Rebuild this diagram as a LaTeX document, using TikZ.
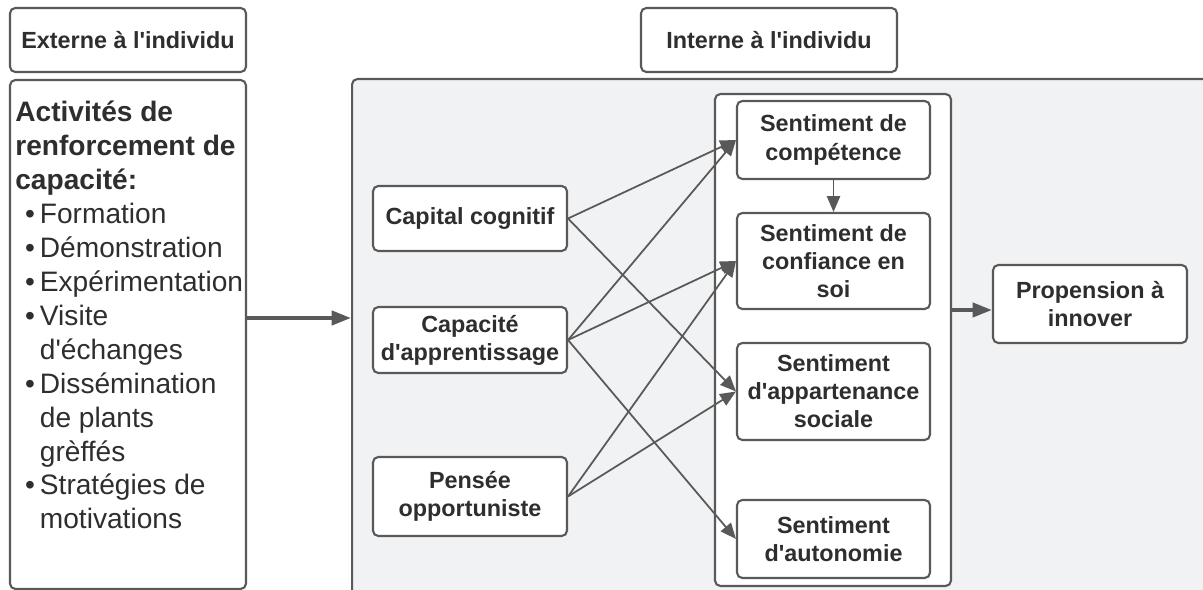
\documentclass[tikz,border=0pt]{standalone}
\usepackage{fontspec}
\setmainfont{Liberation Sans}[Ligatures=TeXOff]
\usetikzlibrary{arrows.meta}

\definecolor{line gray}{HTML}{595959}
\definecolor{text gray}{HTML}{2E2E2E}
\definecolor{zone gray}{HTML}{F1F2F4}
\def\boxfont{\fontsize{13.3}{16}\selectfont\bfseries}
\def\listfont{\fontsize{16}{19.3}\selectfont}
\newcommand{\puce}{\hspace*{5.5pt}\makebox[8.5pt][l]{•}}
\newcommand{\suite}{\hspace*{14pt}}
\tikzset{
  block/.style={draw=line gray, line width=1.2pt, rounded corners=3pt, fill=white,
    align=center, font=\boxfont, text=text gray, inner sep=2pt},
  group/.style={draw=line gray, line width=1.2pt, rounded corners=3pt},
  link/.style={draw=line gray, line width=1pt, -{Triangle[length=9pt,width=7.5pt]}},
  thicklink/.style={link, line width=2.2pt, -{Triangle[length=11pt,width=8pt]}}
  }

\begin{document}
\begin{tikzpicture}[x=0.02cm,y=-0.02cm]
   \clip (0,0) rectangle (1203,590);

   % the two areas
   \node[group, fill=zone gray, minimum width=17.26cm, minimum height=10.42cm] (zone) at (783.5,339.5) {};
   \node[group, fill=white, minimum width=4.72cm, minimum height=10.18cm] (act) at (128,334.5) {};
   \node[group, fill=white, minimum width=4.72cm, minimum height=9.84cm] (sent) at (833,340) {};

   \node[block, minimum width=4.72cm, minimum height=1.28cm] (ext) at (128,40) {Externe à l'individu};
   \node[block, minimum width=5.12cm, minimum height=1.28cm] (int) at (769,40) {Interne à l'individu};

   \node[anchor=north west, inner sep=0pt, align=left, font=\listfont, text=text gray] (acttxt) at (15,101) {%
     \textbf{Activités de}\\
     \textbf{renforcement de}\\
     \textbf{capacité:}\\
     \puce Formation\\
     \puce Démonstration\\
     \puce Expérimentation\\
     \puce Visite\\
     \suite d'échanges\\
     \puce Dissémination\\
     \suite de plants\\
     \suite grèffés\\
     \puce Stratégies de\\
     \suite motivations};

   % determinants
   \node[block, minimum width=3.88cm, minimum height=1.3cm] (capcog) at (470,218.5) {Capital cognitif};
   \node[block, minimum width=3.88cm, minimum height=1.32cm] (capapp) at (470,340) {Capacité\\d'apprentissage};
   \node[block, minimum width=3.88cm, minimum height=1.58cm] (pensee) at (470,496.5) {Pensée\\opportuniste};

   % sentiments
   \node[block, minimum width=3.86cm, minimum height=1.56cm] (comp) at (833.5,140) {Sentiment de\\compétence};
   \node[block, minimum width=3.86cm, minimum height=1.92cm] (conf) at (833.5,261) {Sentiment de\\confiance en\\soi};
   \node[block, minimum width=3.86cm, minimum height=1.94cm] (appart) at (833.5,391.5) {Sentiment\\d'appartenance\\sociale};
   \node[block, minimum width=3.86cm, minimum height=1.56cm] (auto) at (833.5,539) {Sentiment\\d'autonomie};

   \node[block, minimum width=3.88cm, minimum height=1.56cm] (prop) at (1090,304) {Propension à\\innover};

   \coordinate (mid) at (0,318);
   \coordinate (rgt) at (0,310);

   \path[link] (capcog.east) -- (comp.west);
   \path[link] (capcog.east) -- (appart.west);
   \path[link] (capapp.east) -- (comp.west);
   \path[link] (capapp.east) -- (conf.west);
   \path[link] (capapp.east) -- (auto.west);
   \path[link] (pensee.east) -- (conf.west);
   \path[link] (pensee.east) -- (appart.west);
   \path[link] (comp.south) -- (conf.north);

   \path[thicklink] (act.east |- mid) -- (zone.west |- mid);
   \path[thicklink] (sent.east |- rgt) -- (prop.west |- rgt);
\end{tikzpicture}
\end{document}
